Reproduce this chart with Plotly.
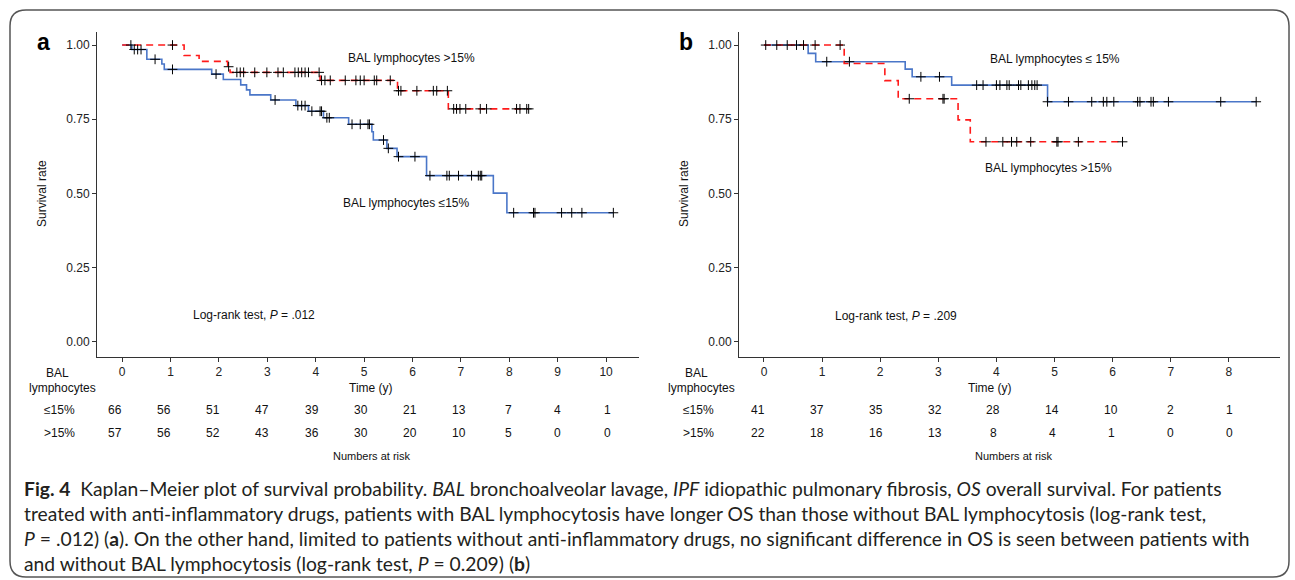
import plotly.graph_objects as go
import bisect

# ---------------- data ----------------
# Panel a: patients treated with anti-inflammatory drugs
A_LE_TIMES = [0, 0.20, 0.51, 0.82, 0.87, 1.85, 2.09, 2.45, 2.57, 2.64, 3.07, 3.59, 3.85, 4.16,
              4.68, 5.16, 5.19, 5.47, 5.68, 6.29, 7.67, 7.95, 10.15]
A_LE_SURV = [1.0, 0.985, 0.952, 0.936, 0.918, 0.902, 0.884, 0.866, 0.849, 0.832, 0.815, 0.796,
             0.777, 0.755, 0.733, 0.708, 0.680, 0.652, 0.624, 0.560, 0.501, 0.435, 0.435]
A_LE_CENS = [0.18, 0.25, 0.32, 0.39, 0.68, 1.04, 1.94, 3.16, 3.63, 3.71, 3.78, 3.92, 4.09, 4.12,
             4.23, 4.28, 4.75, 4.92, 5.08, 5.11, 5.40, 5.50, 5.71, 6.05, 6.36, 6.71, 6.76, 6.95,
             7.22, 7.36, 7.40, 7.43, 8.09, 8.50, 8.53, 9.08, 9.29, 9.50, 10.15]

A_GT_TIMES = [0, 1.28, 1.59, 2.18, 2.23, 4.09, 5.69, 6.74, 8.40]
A_GT_SURV = [1.0, 0.965, 0.945, 0.927, 0.908, 0.881, 0.846, 0.785, 0.785]
A_GT_CENS = [1.04, 2.20, 2.37, 2.44, 2.51, 2.74, 2.99, 3.22, 3.33, 3.57, 3.64, 3.71, 3.78, 3.85,
             4.07, 4.12, 4.19, 4.30, 4.61, 4.83, 4.92, 5.00, 5.21, 5.26, 5.54, 5.71, 5.76, 6.09,
             6.43, 6.50, 6.72, 6.85, 6.91, 6.98, 7.10, 7.40, 7.53, 8.15, 8.22, 8.36, 8.40]

# Panel b: patients without anti-inflammatory drugs
B_LE_TIMES = [0, 0.76, 0.89, 2.43, 2.55, 3.23, 4.88, 8.47]
B_LE_SURV = [1.0, 0.972, 0.944, 0.919, 0.893, 0.865, 0.809, 0.809]
B_LE_CENS = [0.22, 0.56, 1.08, 1.47, 2.70, 3.02, 3.66, 3.77, 4.00, 4.06, 4.18, 4.22, 4.38, 4.42,
             4.55, 4.61, 4.66, 4.70, 4.88, 5.24, 5.64, 5.84, 5.90, 6.02, 6.43, 6.47, 6.66, 6.70,
             6.96, 7.86, 8.47]

B_GT_TIMES = [0, 1.38, 2.08, 2.31, 3.34, 3.55, 6.17]
B_GT_SURV = [1.0, 0.938, 0.880, 0.819, 0.748, 0.674, 0.674]
B_GT_CENS = [0.03, 0.40, 0.68, 0.88, 1.31, 2.50, 3.08, 3.10, 3.82, 4.11, 4.26, 4.35, 4.59, 5.04,
             5.06, 5.41, 6.17]

# Numbers at risk
A_RISK_TIMES = [0, 1, 2, 3, 4, 5, 6, 7, 8, 9, 10]
A_RISK_LE = [66, 56, 51, 47, 39, 30, 21, 13, 7, 4, 1]
A_RISK_GT = [57, 56, 52, 43, 36, 30, 20, 10, 5, 0, 0]
B_RISK_TIMES = [0, 1, 2, 3, 4, 5, 6, 7, 8]
B_RISK_LE = [41, 37, 35, 32, 28, 14, 10, 2, 1]
B_RISK_GT = [22, 18, 16, 13, 8, 4, 1, 0, 0]

Y_TICKS = [0, 0.25, 0.5, 0.75, 1.0]

CAPTION = [
    "<b>Fig. 4</b>  Kaplan–Meier plot of survival probability. <i>BAL</i> bronchoalveolar lavage, "
    "<i>IPF</i> idiopathic pulmonary fibrosis, <i>OS</i> overall survival. For patients",
    "treated with anti-inflammatory drugs, patients with BAL lymphocytosis have longer OS than "
    "those without BAL lymphocytosis (log-rank test,",
    "<i>P</i> = .012) (<b>a</b>). On the other hand, limited to patients without anti-inflammatory "
    "drugs, no significant difference in OS is seen between patients with",
    "and without BAL lymphocytosis (log-rank test, <i>P</i> = 0.209) (<b>b</b>)",
]

# ---------------- styling ----------------
W, H = 1295, 580
BLUE = "#4a76c8"
RED = "#ff1a1a"
AX = "#333333"
FONT = "Liberation Sans, Arial, sans-serif"


def px_x(p):
    return p / W


def px_y(p):
    return 1 - p / H


def censor_y(times, surv, cens):
    out = []
    for c in cens:
        i = bisect.bisect_right(times, c) - 1
        out.append(surv[max(i, 0)])
    return out


fig = go.Figure()


def add_panel(xa, ya, le, gt):
    (lt, ls, lc), (gtt, gs, gc) = le, gt
    fig.add_trace(go.Scatter(x=lt, y=ls, mode="lines", line=dict(color=BLUE, width=1.6, shape="hv"),
                             xaxis=xa, yaxis=ya, showlegend=False, hoverinfo="skip"))
    fig.add_trace(go.Scatter(x=gtt, y=gs, mode="lines",
                             line=dict(color=RED, width=1.6, shape="hv", dash="7px,5px"),
                             xaxis=xa, yaxis=ya, showlegend=False, hoverinfo="skip"))
    for tt, ss, cc in ((lt, ls, lc), (gtt, gs, gc)):
        fig.add_trace(go.Scatter(x=cc, y=censor_y(tt, ss, cc), mode="markers",
                                 marker=dict(symbol="cross-thin", size=7,
                                             line=dict(color="black", width=1)),
                                 xaxis=xa, yaxis=ya, showlegend=False, hoverinfo="skip"))


add_panel("x", "y", (A_LE_TIMES, A_LE_SURV, A_LE_CENS), (A_GT_TIMES, A_GT_SURV, A_GT_CENS))
add_panel("x2", "y2", (B_LE_TIMES, B_LE_SURV, B_LE_CENS), (B_GT_TIMES, B_GT_SURV, B_GT_CENS))

xcommon = dict(showline=True, linecolor=AX, linewidth=1, ticks="outside", ticklen=4,
               tickcolor=AX, showgrid=False, zeroline=False,
               tickfont=dict(family=FONT, size=12, color="#222"))
ycommon = dict(xcommon, tickvals=Y_TICKS, tickformat=".2f", range=[-0.05, 1.045])

ydom = [px_y(356.7), px_y(31.7)]
fig.update_layout(
    width=W, height=H, margin=dict(l=0, r=0, t=0, b=0),
    paper_bgcolor="white", plot_bgcolor="white",
    xaxis=dict(xcommon, domain=[px_x(97), px_x(639)], range=[-0.52, 10.68],
               tickvals=A_RISK_TIMES, anchor="y"),
    yaxis=dict(ycommon, domain=ydom, anchor="x"),
    xaxis2=dict(xcommon, domain=[px_x(739), px_x(1280)], range=[-0.43, 8.88],
                tickvals=B_RISK_TIMES, anchor="y2"),
    yaxis2=dict(ycommon, domain=ydom, anchor="x2"),
)

ann = []


def txt(x, y, text, xref="paper", yref="paper", size=12, xanchor="center", textangle=0,
        font=FONT, color="#111", xshift=0):
    ann.append(dict(x=x, y=y, xref=xref, yref=yref, text=text, showarrow=False,
                    xanchor=xanchor, yanchor="middle", textangle=textangle, xshift=xshift,
                    font=dict(family=font, size=size, color=color)))


# panel letters
txt(px_x(43), px_y(42), "<b>a</b>", size=23, color="#000")
txt(px_x(686), px_y(42), "<b>b</b>", size=23, color="#000")

# y titles
txt(px_x(42), px_y(194), "Survival rate", textangle=-90)
txt(px_x(684), px_y(194), "Survival rate", textangle=-90)

# curve labels
txt(5.97, 0.955, "BAL lymphocytes >15%", xref="x", yref="y")
txt(5.87, 0.467, "BAL lymphocytes ≤15%", xref="x", yref="y")
txt(2.72, 0.091, "Log-rank test, <i>P</i> = .012", xref="x", yref="y")
txt(5.0, 0.952, "BAL lymphocytes ≤ 15%", xref="x2", yref="y2")
txt(4.9, 0.587, "BAL lymphocytes >15%", xref="x2", yref="y2")
txt(2.27, 0.088, "Log-rank test, <i>P</i> = .209", xref="x2", yref="y2")

# risk tables
for xref, cx, times, le, gt, s0, s1, tcx, nrx in (
        ("x", 62, A_RISK_TIMES, A_RISK_LE, A_RISK_GT, -7.5, 0.85, 371, 372),
        ("x2", 701, B_RISK_TIMES, B_RISK_LE, B_RISK_GT, -6.2, 0.8, 990, 1014)):
    txt(px_x(cx - 5), px_y(373), "BAL")
    txt(px_x(cx), px_y(388), "lymphocytes")
    txt(px_x(cx - 3), px_y(410), "≤15%")
    txt(px_x(cx - 3), px_y(433), ">15%")
    txt(px_x(tcx), px_y(388), "Time (y)")
    txt(px_x(nrx), px_y(456), "Numbers at risk", size=11)
    for t, a, b in zip(times, le, gt):
        txt(t, px_y(410), str(a), xref=xref, xshift=s0 + s1 * t)
        txt(t, px_y(433), str(b), xref=xref, xshift=s0 + s1 * t)

# caption
for i, line in enumerate(CAPTION):
    txt(px_x(22), px_y(488 + 25 * i), line, xanchor="left", size=19.3,
        font="Lato, 'Open Sans', sans-serif", color="#231f20")

fig.update_layout(annotations=ann)

# rounded border around figure
x0, x1, y0, y1, r = 10, 1289, 10, 577, 16
def P(x, y):
    return f"{px_x(x):.5f},{px_y(y):.5f}"
path = (f"M {P(x0 + r, y0)} L {P(x1 - r, y0)} Q {P(x1, y0)} {P(x1, y0 + r)} "
        f"L {P(x1, y1 - r)} Q {P(x1, y1)} {P(x1 - r, y1)} L {P(x0 + r, y1)} "
        f"Q {P(x0, y1)} {P(x0, y1 - r)} L {P(x0, y0 + r)} Q {P(x0, y0)} {P(x0 + r, y0)} Z")
fig.add_shape(type="path", path=path, xref="paper", yref="paper",
              line=dict(color="#555", width=1.5), layer="below")

fig.write_html("out.html", config={"displayModeBar": False},
               post_script="document.body.style.margin='0px';")
